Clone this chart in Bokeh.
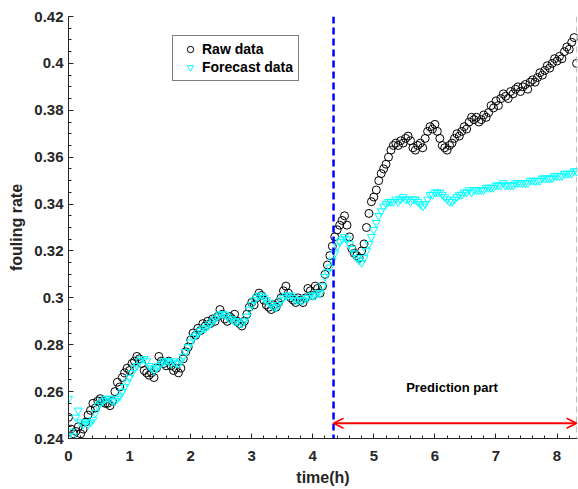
import numpy as np
from bokeh.plotting import figure
from bokeh.models import (SingleIntervalTicker, CustomJSTickFormatter, Span, Arrow,
                          OpenHead, Label, ColumnDataSource)
from bokeh.embed import file_html
from bokeh.resources import INLINE

# time step of the samples (h)
time_step = 0.04

raw_data = [
    0.249, 0.244, 0.242, 0.243, 0.245, 0.242, 0.244, 0.247, 0.250, 0.252,
    0.255, 0.253, 0.256, 0.257, 0.256, 0.255, 0.255, 0.254, 0.256, 0.260,
    0.264, 0.262, 0.266, 0.268, 0.270, 0.269, 0.272, 0.273, 0.275, 0.274,
    0.272, 0.269, 0.268, 0.267, 0.268, 0.266, 0.270, 0.275, 0.273, 0.272,
    0.271, 0.273, 0.271, 0.269, 0.270, 0.268, 0.270, 0.274, 0.277, 0.279,
    0.282, 0.285, 0.284, 0.287, 0.286, 0.289, 0.288, 0.290, 0.289, 0.291,
    0.290, 0.292, 0.295, 0.293, 0.291, 0.290, 0.292, 0.291, 0.293, 0.290,
    0.289, 0.288, 0.290, 0.293, 0.296, 0.298, 0.297, 0.300, 0.302, 0.301,
    0.299, 0.297, 0.296, 0.295, 0.297, 0.296, 0.298, 0.300, 0.303, 0.305,
    0.302, 0.300, 0.299, 0.298, 0.300, 0.299, 0.298, 0.300, 0.304, 0.303,
    0.301, 0.305, 0.304, 0.302, 0.305, 0.310, 0.314, 0.318, 0.322, 0.326,
    0.329, 0.331, 0.333, 0.335, 0.331, 0.326, 0.321, 0.319, 0.318, 0.317,
    0.320, 0.323, 0.330, 0.336, 0.341, 0.343, 0.346, 0.350, 0.353, 0.355,
    0.357, 0.360, 0.363, 0.365, 0.366, 0.365, 0.367, 0.366, 0.368, 0.369,
    0.367, 0.364, 0.363, 0.365, 0.366, 0.364, 0.368, 0.371, 0.373, 0.372,
    0.374, 0.371, 0.368, 0.365, 0.364, 0.363, 0.365, 0.366, 0.368, 0.370,
    0.369, 0.371, 0.373, 0.372, 0.375, 0.377, 0.376, 0.377, 0.375, 0.376,
    0.378, 0.377, 0.379, 0.382, 0.381, 0.384, 0.382, 0.385, 0.387, 0.386,
    0.385, 0.388, 0.387, 0.389, 0.390, 0.388, 0.390, 0.391, 0.389, 0.392,
    0.393, 0.392, 0.394, 0.396, 0.395, 0.397, 0.399, 0.398, 0.400, 0.402,
    0.401, 0.403, 0.402, 0.405, 0.407, 0.406, 0.409, 0.411, 0.400,
]

forecast_data = [
    0.257, 0.243, 0.241, 0.249, 0.252, 0.247, 0.246, 0.247, 0.246, 0.247,
    0.248, 0.251, 0.254, 0.255, 0.256, 0.257, 0.257, 0.257, 0.256, 0.256,
    0.257, 0.258, 0.260, 0.262, 0.264, 0.266, 0.268, 0.270, 0.271, 0.273,
    0.274, 0.274, 0.273, 0.271, 0.270, 0.269, 0.270, 0.271, 0.272, 0.273,
    0.273, 0.273, 0.272, 0.273, 0.272, 0.272, 0.273, 0.275, 0.277, 0.279,
    0.281, 0.283, 0.284, 0.285, 0.286, 0.287, 0.287, 0.288, 0.289, 0.290,
    0.291, 0.292, 0.293, 0.293, 0.293, 0.292, 0.291, 0.291, 0.290, 0.290,
    0.289, 0.289, 0.290, 0.292, 0.295, 0.297, 0.299, 0.300, 0.301, 0.301,
    0.300, 0.299, 0.298, 0.297, 0.296, 0.296, 0.297, 0.299, 0.300, 0.301,
    0.301, 0.301, 0.300, 0.299, 0.299, 0.299, 0.299, 0.300, 0.300, 0.301,
    0.301, 0.301, 0.302, 0.302, 0.305, 0.309, 0.311, 0.313, 0.316, 0.319,
    0.322, 0.324, 0.325, 0.326, 0.325, 0.323, 0.321, 0.319, 0.317, 0.316,
    0.315, 0.317, 0.320, 0.323, 0.326, 0.329, 0.332, 0.335, 0.337, 0.339,
    0.340, 0.341, 0.341, 0.341, 0.342, 0.341, 0.342, 0.343, 0.342, 0.342,
    0.341, 0.342, 0.342, 0.341, 0.340, 0.339, 0.340, 0.342, 0.344, 0.344,
    0.345, 0.345, 0.345, 0.344, 0.343, 0.342, 0.341, 0.341, 0.342, 0.343,
    0.344, 0.344, 0.345, 0.345, 0.346, 0.345, 0.346, 0.346, 0.346, 0.346,
    0.346, 0.347, 0.347, 0.347, 0.347, 0.348, 0.348, 0.348, 0.349, 0.348,
    0.348, 0.348, 0.348, 0.349, 0.349, 0.349, 0.349, 0.349, 0.349, 0.350,
    0.350, 0.350, 0.350, 0.350, 0.351, 0.351, 0.351, 0.351, 0.351, 0.352,
    0.352, 0.352, 0.352, 0.353, 0.353, 0.353, 0.353, 0.354, 0.354,
]

time_h = [round(i * time_step, 2) for i in range(len(raw_data))]

split_time = 4.34      # start of prediction part
end_time = 8.32        # end of data
arrow_y = 0.2465
label_text = "Prediction part"

FONT = "Liberation Sans"
AX = "#262626"

p = figure(width=578, height=489, x_range=(0, 8.335), y_range=(0.24, 0.42),
           output_backend="svg", toolbar_location=None,
           min_border_left=68, min_border_right=1, min_border_top=16, min_border_bottom=51)
p.outline_line_color = None
p.xgrid.visible = False
p.ygrid.visible = False

src = ColumnDataSource(dict(t=time_h, raw=raw_data, fc=forecast_data))
p.scatter("t", "raw", source=src, marker="circle", size=8, fill_color=None,
          line_color="black", line_width=1, legend_label="Raw data")
p.scatter("t", "fc", source=src, marker="inverted_triangle", size=8, fill_color=None,
          line_color="#00FFFF", line_width=1, legend_label="Forecast data")

p.add_layout(Span(location=split_time, dimension="height", line_color="#0000FF",
                  line_width=2.5, line_dash="7 4"))
p.add_layout(Span(location=end_time, dimension="height", line_color="#BBBBBB",
                  line_width=1, line_dash="6 4"))
p.add_layout(Arrow(x_start=split_time, y_start=arrow_y, x_end=end_time, y_end=arrow_y,
                   line_color="red", line_width=2,
                   start=OpenHead(size=10, line_color="red", line_width=1.5),
                   end=OpenHead(size=10, line_color="red", line_width=1.5)))
p.add_layout(Label(x=6.28, y=0.2617, text=label_text, text_align="center",
                   text_baseline="middle", text_font=FONT, text_font_size="13px",
                   text_font_style="bold", text_color="black"))

p.xaxis.ticker = SingleIntervalTicker(interval=1, num_minor_ticks=5)
p.yaxis.ticker = SingleIntervalTicker(interval=0.02, num_minor_ticks=4)
p.yaxis.formatter = CustomJSTickFormatter(code="return (Math.round(tick*100)/100).toString();")
p.xaxis.axis_label = "time(h)"
p.yaxis.axis_label = "fouling rate"
for ax in (p.xaxis, p.yaxis):
    ax.axis_line_color = AX
    ax.major_tick_line_color = AX
    ax.minor_tick_line_color = AX
    ax.major_tick_in = 5
    ax.major_tick_out = 0
    ax.minor_tick_in = 3
    ax.minor_tick_out = 0
    ax.major_label_text_font = FONT
    ax.major_label_text_font_style = "bold"
    ax.major_label_text_font_size = "15px"
    ax.major_label_text_color = AX
    ax.axis_label_text_font = FONT
    ax.axis_label_text_font_style = "bold"
    ax.axis_label_text_font_size = "16px"
    ax.axis_label_text_color = AX
p.xaxis.major_label_standoff = 12
p.yaxis.major_label_standoff = 5
p.xaxis.axis_label_standoff = 5
p.yaxis.axis_label_standoff = 6

lg = p.legend[0]
lg.location = (104, 357)
lg.border_line_color = "black"
lg.border_line_width = 1
lg.background_fill_color = "white"
lg.background_fill_alpha = 1
lg.label_text_font = FONT
lg.label_text_font_style = "bold"
lg.label_text_font_size = "14px"
lg.label_text_color = "black"
lg.padding = 5
lg.margin = 0
lg.spacing = 2
lg.glyph_width = 24
lg.glyph_height = 16
lg.label_height = 16
lg.label_standoff = 0

open("out.html", "w").write(file_html(p, INLINE))
